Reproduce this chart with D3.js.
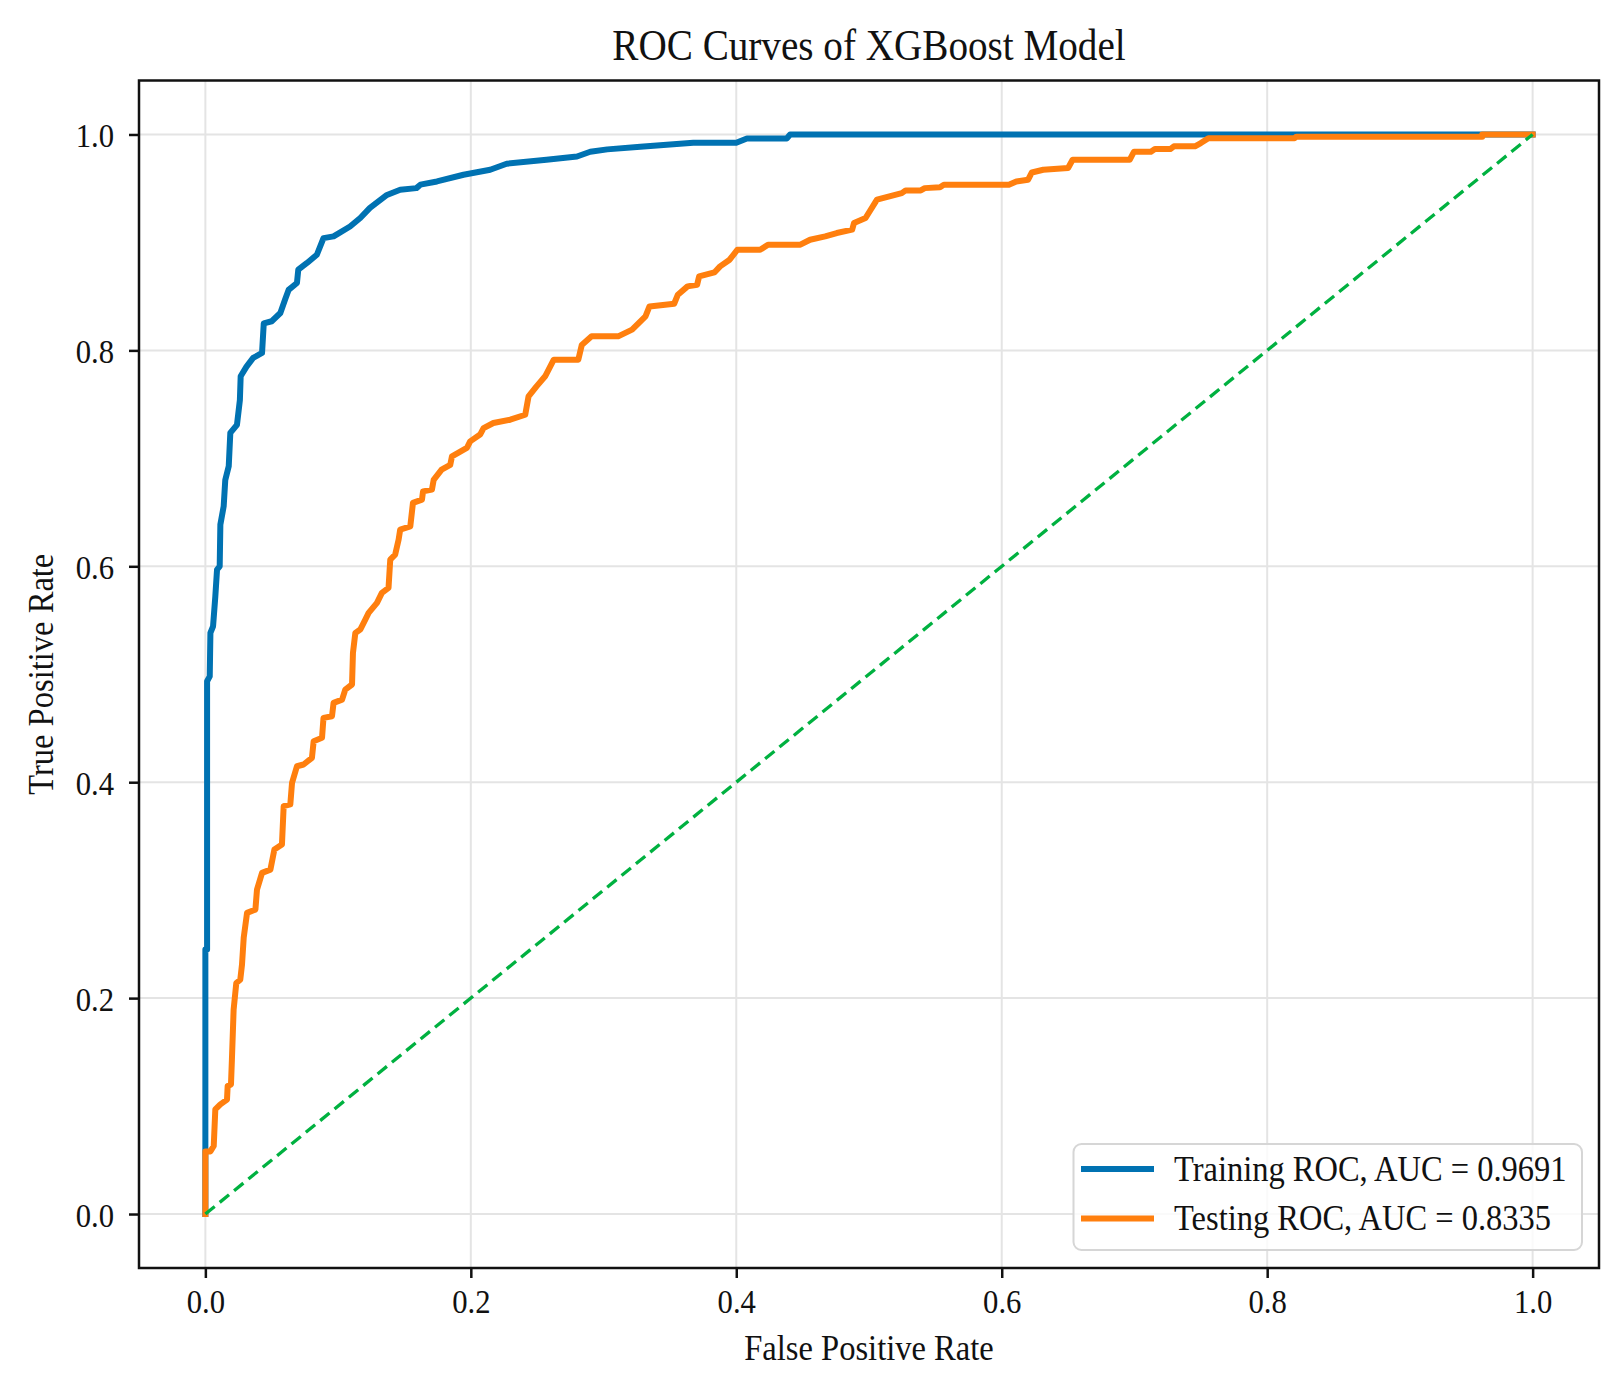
<!DOCTYPE html>
<html>
<head>
<meta charset="utf-8">
<script src="https://cdn.jsdelivr.net/npm/d3@7"></script>
<style>
  html, body { margin: 0; padding: 0; background: #fff; }
  svg { display: block; }
  text { font-family: "Liberation Serif", "Times New Roman", serif; fill: #111; }
</style>
</head>
<body>
<svg id="chart" width="1621" height="1388"></svg>
<script>
const chartTitle = "ROC Curves of XGBoost Model";
const xLabel = "False Positive Rate";
const yLabel = "True Positive Rate";
const xTicks = [0.0, 0.2, 0.4, 0.6, 0.8, 1.0];
const yTicks = [0.0, 0.2, 0.4, 0.6, 0.8, 1.0];
const seriesNames = ["Training ROC, AUC = 0.9691", "Testing ROC, AUC = 0.8335"];

const trainFpr = [0,0,0,0.0013,0.0013,0.0033,0.0038,0.0058,0.0075,0.0088,0.0108,0.0113,0.0138,0.015,0.0176,0.0188,0.0238,0.026,0.0266,0.031,0.036,0.0427,0.044,0.050,0.0565,0.060,0.0627,0.069,0.070,0.0766,0.084,0.089,0.0966,0.109,0.1167,0.124,0.1368,0.1468,0.159,0.162,0.1745,0.1945,0.2146,0.227,0.257,0.28,0.29,0.3028,0.3277,0.3676,0.40,0.408,0.438,0.4406,1.0];
const trainTpr = [0,0.063,0.245,0.245,0.4935,0.498,0.5383,0.5444,0.572,0.597,0.600,0.6386,0.6556,0.680,0.6926,0.7235,0.731,0.754,0.776,0.785,0.793,0.7976,0.825,0.827,0.8346,0.847,0.856,0.8624,0.8747,0.881,0.8886,0.904,0.9056,0.9148,0.9226,0.932,0.944,0.9488,0.9503,0.9535,0.9565,0.9627,0.9673,0.9729,0.9766,0.9796,0.984,0.9862,0.9886,0.9923,0.9923,0.9963,0.9963,1.0,1.0];

const testFpr = [0,0,0.0038,0.0063,0.0075,0.0113,0.0163,0.0168,0.0193,0.020,0.0213,0.0233,0.0263,0.0276,0.0289,0.0314,0.0377,0.0389,0.0427,0.049,0.052,0.0577,0.059,0.064,0.0653,0.069,0.074,0.0803,0.0816,0.0879,0.089,0.0954,0.0966,0.103,0.1054,0.1105,0.1112,0.113,0.1167,0.1205,0.123,0.1293,0.133,0.138,0.1393,0.143,0.1456,0.1468,0.1544,0.1564,0.1632,0.164,0.1707,0.172,0.178,0.1845,0.1858,0.197,0.1995,0.207,0.2096,0.217,0.2297,0.241,0.2435,0.2495,0.256,0.2625,0.281,0.2836,0.291,0.311,0.3215,0.3316,0.3346,0.3532,0.356,0.3633,0.3705,0.372,0.3835,0.3878,0.395,0.4008,0.418,0.4239,0.4483,0.4556,0.467,0.4757,0.4873,0.4887,0.4974,0.506,0.5132,0.5247,0.5276,0.539,0.542,0.5535,0.5564,0.6054,0.611,0.6198,0.6227,0.6313,0.65,0.6534,0.6965,0.6996,0.7124,0.7154,0.727,0.7297,0.7456,0.75,0.7557,0.8206,0.822,0.962,0.962,1.0];
const testTpr = [0,0.058,0.058,0.063,0.097,0.1016,0.106,0.1186,0.120,0.143,0.1895,0.214,0.217,0.231,0.256,0.279,0.282,0.3006,0.316,0.319,0.3377,0.3423,0.3778,0.3794,0.3994,0.4148,0.4164,0.4226,0.438,0.4411,0.4596,0.4611,0.4735,0.4765,0.4858,0.4905,0.5198,0.5383,0.5414,0.5506,0.5568,0.5661,0.5754,0.580,0.6062,0.6108,0.6247,0.634,0.637,0.6587,0.6618,0.6694,0.671,0.680,0.6895,0.694,0.7018,0.7096,0.7157,0.722,0.728,0.7327,0.7358,0.7404,0.7574,0.7667,0.776,0.7914,0.7914,0.805,0.813,0.813,0.8192,0.8315,0.8407,0.8432,0.8516,0.8593,0.8608,0.8685,0.8722,0.8778,0.884,0.8932,0.8932,0.8979,0.8979,0.9025,0.9056,0.9087,0.9118,0.918,0.9226,0.9396,0.942,0.9457,0.9482,0.9482,0.9503,0.9512,0.9535,0.9535,0.9565,0.958,0.9648,0.9673,0.9689,0.9766,0.9766,0.984,0.984,0.9865,0.9865,0.989,0.989,0.992,0.9966,0.9966,0.998,0.998,1.0,1.0];

const chanceFpr = [0, 1];
const chanceTpr = [0, 1];

const colors = { train: "#0072b2", test: "#ff7f0e", chance: "#00b140" };

const svg = d3.select("#chart");
const W = 1621, H = 1388;
svg.append("rect").attr("width", W).attr("height", H).attr("fill", "#fff");

const plot = { left: 139, right: 1599, top: 80.5, bottom: 1268 };
const x = d3.scaleLinear().domain([-0.05, 1.05]).range([plot.left, plot.right]);
const y = d3.scaleLinear().domain([-0.05, 1.05]).range([plot.bottom, plot.top]);
const SX = 0.89; // condensed serif look

// grid
const grid = svg.append("g");
grid.selectAll("line.gx").data(xTicks).join("line")
  .attr("x1", d => x(d)).attr("x2", d => x(d))
  .attr("y1", plot.top).attr("y2", plot.bottom)
  .attr("stroke", "#e4e4e4").attr("stroke-width", 2);
grid.selectAll("line.gy").data(yTicks).join("line")
  .attr("y1", d => y(d)).attr("y2", d => y(d))
  .attr("x1", plot.left).attr("x2", plot.right)
  .attr("stroke", "#e4e4e4").attr("stroke-width", 2);

// curves
const line = d3.line().x(d => x(d[0])).y(d => y(d[1]));
svg.append("clipPath").attr("id", "clip").append("rect")
  .attr("x", plot.left).attr("y", plot.top)
  .attr("width", plot.right - plot.left).attr("height", plot.bottom - plot.top);
const curves = svg.append("g").attr("clip-path", "url(#clip)");
curves.append("path").datum(d3.zip(trainFpr, trainTpr))
  .attr("d", line).attr("fill", "none").attr("stroke", colors.train)
  .attr("stroke-width", 6).attr("stroke-linejoin", "round").attr("stroke-linecap", "square");
curves.append("path").datum(d3.zip(testFpr, testTpr))
  .attr("d", line).attr("fill", "none").attr("stroke", colors.test)
  .attr("stroke-width", 6).attr("stroke-linejoin", "round").attr("stroke-linecap", "square");
curves.append("path").datum(d3.zip(chanceFpr, chanceTpr))
  .attr("d", line).attr("fill", "none").attr("stroke", colors.chance)
  .attr("stroke-width", 3.3).attr("stroke-dasharray", "12,6.5");

// axes with d3 axis generators
const fmt = d3.format(".1f");
const xAxis = d3.axisBottom(x).tickValues(xTicks).tickFormat(fmt).tickSize(10).tickPadding(0);
const yAxis = d3.axisLeft(y).tickValues(yTicks).tickFormat(fmt).tickSize(10).tickPadding(0);

const gx = svg.append("g").attr("transform", `translate(0,${plot.bottom})`).call(xAxis);
gx.select(".domain").remove();
gx.selectAll(".tick line").attr("stroke", "#111").attr("stroke-width", 2.5);
gx.selectAll(".tick text")
  .attr("y", null).attr("dy", null)
  .attr("transform", `translate(0,45) scale(${SX},1)`)
  .attr("font-size", 34.5).attr("fill", "#111")
  .style("font-family", '"Liberation Serif", "Times New Roman", serif');

const gy = svg.append("g").attr("transform", `translate(${plot.left},0)`).call(yAxis);
gy.select(".domain").remove();
gy.selectAll(".tick line").attr("stroke", "#111").attr("stroke-width", 2.5);
gy.selectAll(".tick text")
  .attr("x", null).attr("dy", null)
  .attr("transform", `translate(-25,12) scale(${SX},1)`)
  .attr("font-size", 34.5).attr("fill", "#111")
  .style("font-family", '"Liberation Serif", "Times New Roman", serif');

// frame
svg.append("rect")
  .attr("x", plot.left).attr("y", plot.top)
  .attr("width", plot.right - plot.left).attr("height", plot.bottom - plot.top)
  .attr("fill", "none").attr("stroke", "#111").attr("stroke-width", 2.5);

// title and labels
svg.append("text")
  .attr("transform", `translate(${(plot.left + plot.right) / 2},60) scale(${SX},1)`)
  .attr("text-anchor", "middle").attr("font-size", 44).text(chartTitle);
svg.append("text")
  .attr("transform", `translate(${(plot.left + plot.right) / 2},1360) scale(${SX},1)`)
  .attr("text-anchor", "middle").attr("font-size", 36.6).text(xLabel);
svg.append("text")
  .attr("transform", `translate(53,${(plot.top + plot.bottom) / 2}) rotate(-90) scale(${SX},1)`)
  .attr("text-anchor", "middle").attr("font-size", 36.6).text(yLabel);

// legend
const legend = svg.append("g");
legend.append("rect")
  .attr("x", 1073.5).attr("y", 1144).attr("width", 508.5).attr("height", 106)
  .attr("rx", 8).attr("ry", 8)
  .attr("fill", "#fff").attr("fill-opacity", 0.8)
  .attr("stroke", "#d6d6d6").attr("stroke-width", 2);
const legendItems = [
  { name: seriesNames[0], color: colors.train },
  { name: seriesNames[1], color: colors.test }
];
legendItems.forEach((it, i) => {
  const cy = 1169 + i * 49.5;
  legend.append("line")
    .attr("x1", 1081).attr("x2", 1154).attr("y1", cy).attr("y2", cy)
    .attr("stroke", it.color).attr("stroke-width", 6);
  legend.append("text")
    .attr("transform", `translate(1174,${cy + 11.5}) scale(${SX},1)`)
    .attr("font-size", 36.5).text(it.name);
});
</script>
</body>
</html>
